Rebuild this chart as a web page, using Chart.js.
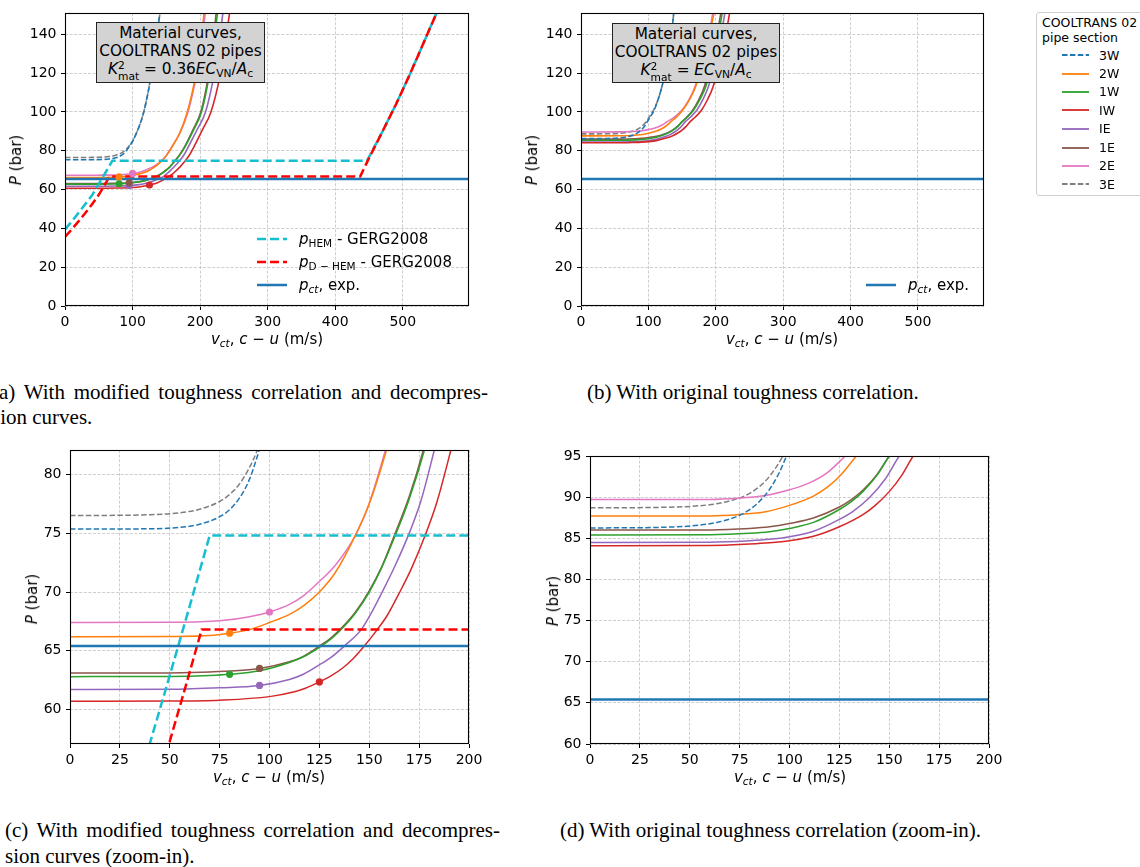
<!DOCTYPE html>
<html>
<head>
<meta charset="utf-8">
<script src="https://cdn.jsdelivr.net/npm/chart.js@4.4.1/dist/chart.umd.min.js"></script>
<style>
body { margin: 0; width: 1140px; height: 867px; background: #fff; position: relative; overflow: hidden; font-family: 'DejaVu Sans', sans-serif; color: #000; }
canvas { position: absolute; }
.t { position: absolute; white-space: nowrap; font-size: 15px; line-height: 18px; }
.ylbl { transform: translate(-50%, -50%) rotate(-90deg); }
.xlbl { transform: translate(-50%, -50%); }
sub { font-size: 70%; vertical-align: -0.3em; line-height: 0; }
.up { position: relative; top: -5px; font-size: 70%; }
.dn { position: relative; top: 6px; font-size: 70%; margin-left: -6.7px; }
.box { position: absolute; background: #d3d3d3; border: 1px solid #222; text-align: center; font-size: 15.3px; line-height: 18px; box-sizing: border-box; padding-top: 1px; white-space: nowrap; }
.leg { position: absolute; display: flex; align-items: center; font-size: 15px; white-space: nowrap; }
.leg svg { margin-right: 12px; }
#side { position: absolute; left: 1036px; top: 12px; width: 130px; height: 184px; border: 1px solid #cfcfcf; border-radius: 3px; box-sizing: border-box; font-size: 12.5px; }
.cap { position: absolute; font-family: 'Liberation Serif', serif; font-size: 21px; line-height: 26px; white-space: nowrap; }
.just { text-align: justify; text-align-last: justify; white-space: normal; }
</style>
</head>
<body>
<canvas id="pa"></canvas>
<canvas id="pb"></canvas>
<canvas id="pc"></canvas>
<canvas id="pd"></canvas>

<!-- axis titles -->
<div class="t ylbl" style="left:16px;top:160px;"><i>P</i> (bar)</div>
<div class="t xlbl" style="left:267px;top:339px;"><i>v</i><sub><i>ct</i></sub>, <i>c</i> − <i>u</i> (m/s)</div>
<div class="t ylbl" style="left:532px;top:160px;"><i>P</i> (bar)</div>
<div class="t xlbl" style="left:782px;top:339px;"><i>v</i><sub><i>ct</i></sub>, <i>c</i> − <i>u</i> (m/s)</div>
<div class="t ylbl" style="left:32px;top:599px;"><i>P</i> (bar)</div>
<div class="t xlbl" style="left:269px;top:777px;"><i>v</i><sub><i>ct</i></sub>, <i>c</i> − <i>u</i> (m/s)</div>
<div class="t ylbl" style="left:553px;top:601px;"><i>P</i> (bar)</div>
<div class="t xlbl" style="left:790px;top:777px;"><i>v</i><sub><i>ct</i></sub>, <i>c</i> − <i>u</i> (m/s)</div>

<!-- text boxes -->
<div class="box" style="left:96px;top:22px;width:169px;height:61px;">
  Material curves,<br>COOLTRANS 02 pipes<br><i>K</i><span class="up">2</span><span class="dn">mat</span> = 0.36<i>EC</i><sub>VN</sub>/<i>A</i><sub>c</sub>
</div>
<div class="box" style="left:612px;top:23px;width:168px;height:60px;">
  Material curves,<br>COOLTRANS 02 pipes<br><i>K</i><span class="up">2</span><span class="dn">mat</span> = <i>EC</i><sub>VN</sub>/<i>A</i><sub>c</sub>
</div>

<!-- legend (a) -->
<div class="leg" style="left:257px;top:230px;height:18px;">
  <svg width="30" height="6"><line x1="0" y1="3" x2="30" y2="3" stroke="#17becf" stroke-width="2.5" stroke-dasharray="9,4"/></svg>
  <span><i>p</i><sub>HEM</sub> - GERG2008</span>
</div>
<div class="leg" style="left:257px;top:253px;height:18px;">
  <svg width="30" height="6"><line x1="0" y1="3" x2="30" y2="3" stroke="#ff0000" stroke-width="2.5" stroke-dasharray="9,4"/></svg>
  <span><i>p</i><sub>D − HEM</sub> - GERG2008</span>
</div>
<div class="leg" style="left:257px;top:276px;height:18px;">
  <svg width="30" height="6"><line x1="0" y1="3" x2="30" y2="3" stroke="#1f77b4" stroke-width="2.5"/></svg>
  <span><i>p<sub>ct</sub></i>, exp.</span>
</div>
<!-- legend (b) -->
<div class="leg" style="left:866px;top:276px;height:18px;">
  <svg width="30" height="6"><line x1="0" y1="3" x2="30" y2="3" stroke="#1f77b4" stroke-width="2.5"/></svg>
  <span><i>p<sub>ct</sub></i>, exp.</span>
</div>

<!-- pipe section legend -->
<div id="side"></div>

<!-- captions -->
<div class="cap just" style="left:-8px;top:379px;width:496px;">(a) With modified toughness correlation and decompres-</div>
<div class="cap" style="left:-8px;top:404px;">sion curves.</div>
<div class="cap" style="left:587px;top:379px;">(b) With original toughness correlation.</div>
<div class="cap just" style="left:5px;top:817px;width:495px;">(c) With modified toughness correlation and decompres-</div>
<div class="cap" style="left:5px;top:843px;">sion curves (zoom-in).</div>
<div class="cap" style="left:560px;top:817px;">(d) With original toughness correlation (zoom-in).</div>

<script>
// pipe sections
const sections = ['3W', '2W', '1W', 'IW', 'IE', '1E', '2E', '3E'];
const secColors = ['#1f77b4', '#ff7f0e', '#2ca02c', '#d62728', '#9467bd', '#8c564b', '#e377c2', '#7f7f7f'];
const secDashed = [true, false, false, false, false, false, false, true];

// tick labels
const ticksV = [0, 100, 200, 300, 400, 500];
const ticksP = [0, 20, 40, 60, 80, 100, 120, 140];
const ticksVZoom = [0, 25, 50, 75, 100, 125, 150, 175, 200];
const ticksPZoomC = [60, 65, 70, 75, 80];
const ticksPZoomD = [60, 65, 70, 75, 80, 85, 90, 95];

// material curves, modified toughness: [v (m/s), P (bar)]
const mod3W = [[0,75.35],[40,75.38],[55,75.5],[65,75.76],[75,76.4],[80,77.0],[85,78.0],[90,79.6],[95,82.15],[100,84.9],[105,88.5],[115,98],[124,112],[132,130],[141,152]];
const mod2W = [[0,66.2],[50,66.22],[70,66.3],[80,66.5],[90,66.8],[100,67.4],[110,68.1],[117,68.82],[125,70.0],[133,71.66],[143,74.8],[150,77.5],[158.5,82],[170,89.3],[181,100],[193,118],[201,135],[206,152]];
const mod1W = [[0,62.8],[50,62.82],[70,62.9],[80,63.0],[95,63.3],[110,64.0],[117,64.49],[125,65.3],[131,66.04],[137,67.0],[143,68.19],[150,70.0],[156,71.98],[163,74.8],[170,77.9],[177.5,82],[190,90.5],[202,100],[213,118],[220,135],[226,152]];
const modIW = [[0,60.7],[50,60.72],[75,60.8],[100,61.1],[112,61.49],[118,61.81],[125,62.35],[131,62.88],[137,63.58],[142,64.34],[147.5,65.4],[154,66.8],[159,68.0],[165,69.9],[171,71.95],[178,74.8],[184,77.7],[190.8,82],[203,90.5],[216,100],[229,118],[237,135],[244,152]];
const modIE = [[0,61.7],[50,61.72],[75,61.85],[95,62.05],[110,62.56],[117,63.0],[125,63.8],[131,64.46],[137.5,65.4],[146,66.8],[151,68.2],[156.5,70],[163,72.25],[170.5,75.2],[176,77.8],[182.5,82],[195,90.5],[208,100],[220,118],[228,135],[234,152]];
const mod1E = [[0,63.1],[50,63.12],[70,63.2],[95,63.5],[110,64.06],[117,64.53],[125,65.4],[131,66.13],[137,67.1],[143,68.28],[150,70.1],[156,72.05],[163,75],[170,78.1],[177,82],[189,90.5],[201,100],[212,118],[219,135],[224,152]];
const mod2E = [[0,67.4],[50,67.42],[75,67.55],[90,67.9],[100,68.3],[110,68.95],[117,69.67],[125,70.9],[133,72.28],[143,74.8],[150,77.56],[158,82],[170,89.1],[182,100],[194,118],[202,135],[208,152]];
const mod3E = [[0,76.5],[40,76.57],[55,76.74],[65,77.04],[75,77.7],[80,78.3],[85,79.2],[90,80.6],[94,82.1],[100,85.0],[105,88.5],[115,98],[124,112],[132,130],[141,152]];

// material curves, original toughness
const orig3W = [[0,86.25],[40,86.36],[55,86.6],[65,87.0],[75,87.8],[80,88.49],[85,89.49],[90,90.95],[95,93.05],[98.5,95],[103,97.6],[108,100.5],[114,106],[120,113],[130,128],[138,152]];
const orig2W = [[0,87.7],[60,87.72],[75,87.9],[88,88.23],[100,89.0],[112,90.13],[119,91.21],[125,92.5],[133.5,95],[143,97.8],[152,101.5],[161,106.4],[170,113],[184,130],[192,142],[198,152]];
const orig1W = [[0,85.4],[60,85.42],[80,85.6],[90,85.8],[100,86.2],[112,86.93],[125,88.5],[131,89.46],[137,90.73],[144,92.7],[150,95],[158,97.5],[167,101],[176,106.2],[185,113],[198,130],[205,142],[210,152]];
const origIW = [[0,84.1],[60,84.12],[80,84.3],[90,84.45],[100,84.7],[112,85.24],[125,86.4],[137,87.91],[143,89.0],[150,90.67],[156,92.55],[162,95],[170,97.5],[179,101],[187,105.9],[196,113],[209,130],[216,142],[221,152]];
const origIE = [[0,84.5],[60,84.52],[80,84.7],[90,84.87],[100,85.2],[112,85.86],[125,87.3],[132,88.31],[140,89.92],[148,92.2],[155,95],[163,97.5],[172,101],[180,105.8],[189,113],[202,130],[209,142],[214,152]];
const orig1E = [[0,86.0],[60,86.02],[80,86.2],[90,86.4],[100,86.8],[112,87.46],[125,88.8],[131,89.7],[137,90.9],[144,92.8],[150,95],[158,97.6],[166,101],[175,106.5],[183,113],[196,130],[203,142],[208,152]];
const orig2E = [[0,89.7],[60,89.72],[75,89.9],[88,90.21],[100,90.9],[110,91.74],[119,92.99],[128,95],[139,97.44],[150,101],[159,105.6],[168,112],[182,128],[190,140],[196,152]];
const orig3E = [[0,88.7],[40,88.78],[55,88.96],[65,89.26],[75,89.9],[80,90.47],[85,91.3],[90,92.53],[96.7,95],[102,97.7],[107,100.5],[114,106],[120,113],[130,128],[138,152]];

const modCurves = [mod3W, mod2W, mod1W, modIW, modIE, mod1E, mod2E, mod3E];
const origCurves = [orig3W, orig2W, orig1W, origIW, origIE, orig1E, orig2E, orig3E];

// crack arrest points on the modified curves
const dotV = [80, 80, 125, 95, 95, 100];
const dotP = [66.5, 63.0, 62.35, 62.05, 63.5, 68.3];
const dotColors = ['#ff7f0e', '#2ca02c', '#d62728', '#9467bd', '#8c564b', '#e377c2'];

// decompression curves (GERG2008)
const hemCurve = [[0,39.4],[10,43.6],[20,48],[30,52.5],[40,57.1],[50,62.9],[60,68.8],[70,74.8],[447,74.8],[470,90],[490,104],[510,119],[530,135],[550,151]];
const dhemCurve = [[0,35.6],[10,39.5],[20,43.6],[30,47.9],[40,52.4],[50,57.3],[58,62],[66,66.8],[437,66.8],[448,74.8],[470,90],[490,104],[510,119],[530,135],[550,151]];

// experimental crack arrest pressure
const pctV = [0, 600];
const pct = 65.4;

const FONT = 'DejaVu Sans';
const pts = a => a.map(p => ({x: p[0], y: p[1]}));

// black box round the plot area, like matplotlib spines
const frame = {
    id: 'frame',
    afterDraw(chart) {
        const {ctx, chartArea: a} = chart;
        ctx.save();
        ctx.strokeStyle = '#000';
        ctx.lineWidth = 1.1;
        ctx.strokeRect(a.left + 0.5, a.top + 0.5, a.right - a.left - 1, a.bottom - a.top - 1);
        ctx.restore();
    }
};

function axis(min, max, ticks, pad, fit) {
    return {
        type: 'linear', min, max,
        afterFit: fit,
        afterBuildTicks: s => { s.ticks = ticks.map(v => ({ value: v })); },
        ticks: { autoSkip: false, maxRotation: 0, color: '#000', padding: pad, font: { family: FONT, size: 14 } },
        grid: { color: '#c2c2c2', lineWidth: 0.8, tickColor: '#000', tickLength: 4, tickWidth: 1 },
        border: { display: false, dash: [3, 1.6] }
    };
}

function materialSets(curves, lw) {
    return curves.map((c, i) => ({
        data: pts(c),
        showLine: true,
        borderColor: secColors[i],
        borderWidth: lw,
        borderDash: secDashed[i] ? [5.5, 2.4] : [],
        pointRadius: 0,
        cubicInterpolationMode: 'monotone',
        capBezierPoints: false,
        clip: 0,
        order: 10 + i
    }));
}

function decompSets() {
    return [
        { data: pts(hemCurve), showLine: true, borderColor: '#17becf', borderWidth: 2.5, borderDash: [9, 4],
          pointRadius: 0, tension: 0, clip: 0, order: 3 },
        { data: pts(dhemCurve), showLine: true, borderColor: '#ff0000', borderWidth: 2.5, borderDash: [9, 4],
          pointRadius: 0, tension: 0, clip: 0, order: 2 }
    ];
}

function pctSet() {
    return { data: pctV.map(v => ({x: v, y: pct})), showLine: true, borderColor: '#1f77b4', borderWidth: 2.5,
             pointRadius: 0, tension: 0, clip: 0, order: 1 };
}

function dotSet() {
    return { data: dotV.map((v, i) => ({x: v, y: dotP[i]})), showLine: false, pointRadius: 3.6,
             pointBackgroundColor: dotColors, pointBorderWidth: 0, clip: 0, order: 0 };
}

function makePanel(id, area, xMax, yMin, yMax, xTicks, yTicks, datasets) {
    const cv = document.getElementById(id);
    const left = area[0] - 60, top = area[1] - 14;
    const w = area[2] - left + 20, h = area[3] - top + 34;
    cv.width = w; cv.height = h;
    cv.style.left = left + 'px'; cv.style.top = top + 'px';
    cv.style.width = w + 'px'; cv.style.height = h + 'px';
    new Chart(cv, {
        type: 'scatter',
        data: { datasets },
        options: {
            responsive: false,
            animation: false,
            devicePixelRatio: 1,
            layout: { padding: { left: 0, top: 14, right: 20, bottom: 0 } },
            plugins: { legend: { display: false }, tooltip: { enabled: false } },
            scales: {
                x: axis(0, xMax, xTicks, 3.5, s => { s.height = 34; }),
                y: axis(yMin, yMax, yTicks, 4.5, s => { s.width = 60; })
            }
        },
        plugins: [frame]
    });
}

makePanel('pa', [65, 13, 469, 306], 598, 0, 151, ticksV, ticksP,
    [...materialSets(modCurves, 1.6), dotSet(), ...decompSets(), pctSet()]);
makePanel('pb', [581, 13, 984, 306], 598, 0, 151, ticksV, ticksP,
    [...materialSets(origCurves, 1.6), pctSet()]);
makePanel('pc', [70, 450, 469, 744], 200, 57.07, 82.08, ticksVZoom, ticksPZoomC,
    [...materialSets(modCurves, 1.5), dotSet(), ...decompSets(), pctSet()]);
makePanel('pd', [590, 456, 989, 744], 200, 60, 95, ticksVZoom, ticksPZoomD,
    [...materialSets(origCurves, 1.5), pctSet()]);

// pipe section legend
const side = document.getElementById('side');
side.innerHTML = '<div style="position:absolute;left:5px;top:2px;line-height:15px;">COOLTRANS 02<br>pipe section</div>';
const rowY = [42, 60.5, 78.5, 97, 115.5, 134.5, 152.5, 171];
sections.forEach((s, i) => {
    const row = document.createElement('div');
    row.style.cssText = 'position:absolute;left:25px;top:' + (rowY[i] - 9) + 'px;height:18px;display:flex;align-items:center;';
    row.innerHTML = '<svg width="27" height="4" style="margin-right:10px"><line x1="0" y1="2" x2="27" y2="2" stroke="' +
        secColors[i] + '" stroke-width="1.8"' + (secDashed[i] ? ' stroke-dasharray="5.5,2.4"' : '') + '/></svg><span>' + s + '</span>';
    side.appendChild(row);
});
</script>
</body>
</html>
